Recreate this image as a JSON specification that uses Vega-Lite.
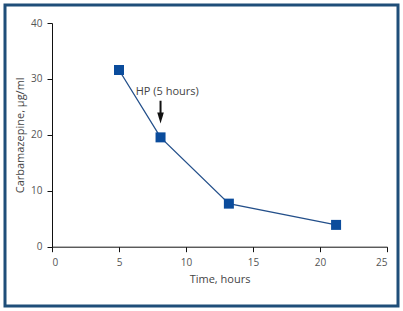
{
  "$schema": "https://vega.github.io/schema/vega-lite/v6.json",
  "autosize": "none",
  "width": 393,
  "height": 301,
  "padding": {"left": 5, "top": 5, "right": 5, "bottom": 5},
  "background": "white",
  "config": {
    "view": {"stroke": "#1f4e79", "strokeWidth": 3, "fill": "white"},
    "font": "Open Sans",
    "axis": {
      "grid": false,
      "domainColor": "#111",
      "domainWidth": 1,
      "tickColor": "#111",
      "tickWidth": 1,
      "tickSize": 5,
      "labelFont": "Open Sans",
      "labelFontSize": 10,
      "labelColor": "#555",
      "titleFont": "Open Sans",
      "titleFontSize": 11,
      "titleFontWeight": "normal",
      "titleColor": "#444"
    }
  },
  "datasets": {
    "series": [
      {"time": 5, "conc": 31.6},
      {"time": 8.1, "conc": 19.55},
      {"time": 13.2, "conc": 7.7},
      {"time": 21.2, "conc": 3.9}
    ],
    "note": [
      {"time": 8.6, "conc": 27.6, "label": "HP (5 hours)", "top": 26.1, "bottom": 23.6, "head": 23.0}
    ]
  },
  "layer": [
    {
      "data": {"name": "series"},
      "mark": {"type": "line", "color": "#234f8a", "strokeWidth": 1.3},
      "encoding": {
        "x": {
          "field": "time", "type": "quantitative",
          "scale": {"domain": [0, 25], "range": [47, 382], "nice": false},
          "axis": {"values": [0, 5, 10, 15, 20, 25], "title": "Time, hours", "offset": -59.3, "labelPadding": 6, "titlePadding": 6}
        },
        "y": {
          "field": "conc", "type": "quantitative",
          "scale": {"domain": [0, 40], "range": [241.7, 18], "nice": false},
          "axis": {"values": [0, 10, 20, 30, 40], "title": "Carbamazepine, µg/ml", "offset": -47, "labelPadding": 5, "titlePadding": 5}
        }
      }
    },
    {
      "data": {"name": "series"},
      "mark": {"type": "point", "shape": "square", "filled": true, "size": 100, "color": "#0b4c9c", "opacity": 1},
      "encoding": {
        "x": {"field": "time", "type": "quantitative"},
        "y": {"field": "conc", "type": "quantitative"}
      }
    },
    {
      "data": {"name": "note"},
      "mark": {"type": "text", "fontSize": 11, "color": "#444", "font": "Open Sans"},
      "encoding": {
        "x": {"field": "time", "type": "quantitative"},
        "y": {"field": "conc", "type": "quantitative"},
        "text": {"field": "label"}
      }
    },
    {
      "data": {"name": "note"},
      "mark": {"type": "rule", "color": "#111", "strokeWidth": 2},
      "encoding": {
        "x": {"datum": 8.1, "type": "quantitative"},
        "y": {"field": "top", "type": "quantitative"},
        "y2": {"field": "bottom"}
      }
    },
    {
      "data": {"name": "note"},
      "mark": {"type": "point", "shape": "M-0.6,-1L0.6,-1L0,1Z", "filled": true, "size": 121, "color": "#111", "opacity": 1},
      "encoding": {
        "x": {"datum": 8.1, "type": "quantitative"},
        "y": {"field": "head", "type": "quantitative"}
      }
    }
  ]
}
